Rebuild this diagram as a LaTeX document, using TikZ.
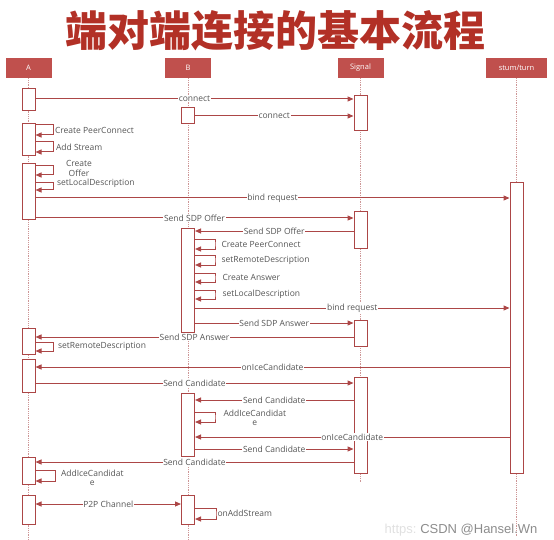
\documentclass[tikz,border=0pt]{standalone}
\usepackage{fontspec}
\setmainfont{Open Sans}
\newfontfamily\cjk{Noto Sans CJK SC}
\newfontfamily\wmfont{Liberation Sans}
\usetikzlibrary{arrows.meta}

\definecolor{titlered}{RGB}{178,48,38}
\definecolor{headred}{RGB}{192,80,77}
\definecolor{linered}{RGB}{172,70,70}
\definecolor{lifered}{RGB}{205,150,150}
\definecolor{labgray}{RGB}{85,85,85}

\begin{document}
\begin{tikzpicture}[
        x=1pt, y=-1pt,
        >={Triangle[length=6pt,width=5pt]},
        head/.style={fill=headred, text=white, minimum width=46pt, minimum height=20pt,
            inner sep=0pt, font=\fontsize{7.5}{8}\selectfont},
        lifeline/.style={lifered, densely dotted, line width=0.8pt},
        act/.style={draw=linered, fill=white, line width=1pt, minimum width=13pt, inner sep=0pt},
        msg/.style={linered, line width=1pt, ->},
        lbl/.style={fill=white, text=labgray, inner sep=0.6pt, font=\fontsize{8.5}{9}\selectfont},
        note/.style={text=labgray, inner sep=0pt, font=\fontsize{8.5}{9.5}\selectfont, align=center},
    ]
    \useasboundingbox (0,0) rectangle (554,540);

    \node[text=titlered, font=\cjk\bfseries\fontsize{42}{42}\selectfont] (title) at (275,31) {端对端连接的基本流程};

    % heads and lifelines
    \node[head] (A) at (28.5,68) {A};
    \node[head] (B) at (188,68) {B};
    \node[head] (S) at (360.5,68) {Signal};
    \node[head, minimum width=61pt] (T) at (516.5,68) {stum/turn};

    \draw[lifeline] (A.south) -- (A |- 0,540);
    \draw[lifeline] (B.south) -- (B |- 0,540);
    \draw[lifeline] (S.south) -- (S |- 0,482);
    \draw[lifeline] (T.south) -- (T |- 0,536);

    % activation boxes
    \node[act, minimum height=22pt] (A1) at (A |- 0,100) {};
    \node[act, minimum height=32pt] (A2) at (A |- 0,140) {};
    \node[act, minimum height=56pt] (A3) at (A |- 0,192) {};
    \node[act, minimum height=26pt] (A4) at (A |- 0,341) {};
    \node[act, minimum height=33pt] (A5) at (A |- 0,375.5) {};
    \node[act, minimum height=27pt] (A6) at (A |- 0,470.5) {};
    \node[act, minimum height=29pt] (A7) at (A |- 0,509.5) {};

    \node[act, minimum height=16pt] (B1) at (B |- 0,116) {};
    \node[act, minimum height=104pt] (B2) at (B |- 0,280) {};
    \node[act, minimum height=63pt] (B3) at (B |- 0,424.5) {};
    \node[act, minimum height=29pt] (B4) at (B |- 0,509.5) {};

    \node[act, minimum height=35pt] (S1) at (S |- 0,113.5) {};
    \node[act, minimum height=36pt] (S2) at (S |- 0,230) {};
    \node[act, minimum height=26pt] (S3) at (S |- 0,333) {};
    \node[act, minimum height=96pt] (S4) at (S |- 0,425) {};

    \node[act, minimum height=290pt] (T1) at (T |- 0,328) {};

    % connect
    \draw[msg] (A1.east |- 0,99) -- node[lbl] {connect} (S1.west |- 0,99);
    \draw[msg] (B1.east |- 0,116) -- node[lbl] {connect} (S1.west |- 0,116);

    % A prepares the offer
    \draw[msg] (A2.east |- 0,125) -| ++(18,5) node[note, right=1pt] {Create PeerConnect} |- (A2.east |- 0,135);
    \draw[msg] (A2.east |- 0,142) -| ++(18,5) node[note, right=2pt] {Add Stream} |- (A2.east |- 0,152);
    \draw[msg] (A3.east |- 0,166) -| ++(18,4.5) node[note, right=12pt, yshift=2pt] {Create\\Offer} |- (A3.east |- 0,175);
    \draw[msg] (A3.east |- 0,183) -| ++(18,3.5) node[note, right=3pt, yshift=3pt] {setLocalDescription} |- (A3.east |- 0,190);
    \draw[msg] (A3.east |- 0,198) -- node[lbl] {bind request} (T1.west |- 0,198);
    \draw[msg] (A3.east |- 0,218) -- node[lbl] {Send SDP Offer} (S2.west |- 0,218);
    \draw[msg] (S2.west |- 0,231) -- node[lbl] {Send SDP Offer} (B2.east |- 0,231);

    % B answers
    \draw[msg] (B2.east |- 0,239) -| ++(20,5) node[note, right=6pt] {Create PeerConnect} |- (B2.east |- 0,249);
    \draw[msg] (B2.east |- 0,255) -| ++(20,5) node[note, right=6pt] {setRemoteDescription} |- (B2.east |- 0,265);
    \draw[msg] (B2.east |- 0,273) -| ++(20,4.5) node[note, right=7pt] {Create Answer} |- (B2.east |- 0,282);
    \draw[msg] (B2.east |- 0,290) -| ++(20,4.5) node[note, right=7pt] {setLocalDescription} |- (B2.east |- 0,299);
    \draw[msg] (B2.east |- 0,308) -- node[lbl] {bind request} (T1.west |- 0,308);
    \draw[msg] (B2.east |- 0,323) -- node[lbl] {Send SDP Answer} (S3.west |- 0,323);
    \draw[msg] (S3.west |- 0,337) -- node[lbl] {Send SDP Answer} (A4.east |- 0,337);
    \draw[msg] (A4.east |- 0,342) -| ++(18,4.5) node[note, right=4pt] {setRemoteDescription} |- (A4.east |- 0,351);

    % candidates
    \draw[msg] (T1.west |- 0,367) -- node[lbl] {onIceCandidate} (A5.east |- 0,367);
    \draw[msg] (A5.east |- 0,383) -- node[lbl] {Send Candidate} (S4.west |- 0,383);
    \draw[msg] (S4.west |- 0,400) -- node[lbl] {Send Candidate} (B3.east |- 0,400);
    \draw[msg] (B3.east |- 0,412) -| ++(20,5) node[note, right=8pt, yshift=-1pt] {AddIceCandidat\\e} |- (B3.east |- 0,422);
    \draw[msg] (T1.west |- 0,437) -- node[lbl] {onIceCandidate} (B3.east |- 0,437);
    \draw[msg] (B3.east |- 0,449) -- node[lbl] {Send Candidate} (S4.west |- 0,449);
    \draw[msg] (S4.west |- 0,462) -- node[lbl] {Send Candidate} (A6.east |- 0,462);
    \draw[msg] (A6.east |- 0,470) -| ++(20,5.5) node[note, right=5pt, yshift=-2.5pt] {AddIceCandidat\\e} |- (A6.east |- 0,481);

    % media
    \draw[msg, <->] (A7.east |- 0,504) -- node[lbl] {P2P Channel} (B4.west |- 0,504);
    \draw[msg] (B4.east |- 0,508) -| ++(21,5.5) node[note, right=1pt] {onAddStream} |- (B4.east |- 0,519);

    \node[text=black!45, font=\wmfont\fontsize{13}{13}\selectfont, anchor=east] (wm) at (541,530) {CSDN @Hansel.Wn};
    \node[text=black!12, font=\wmfont\fontsize{13}{13}\selectfont, anchor=east, inner sep=0pt] (wmurl) at (wm.west) {https:};
\end{tikzpicture}
\end{document}
